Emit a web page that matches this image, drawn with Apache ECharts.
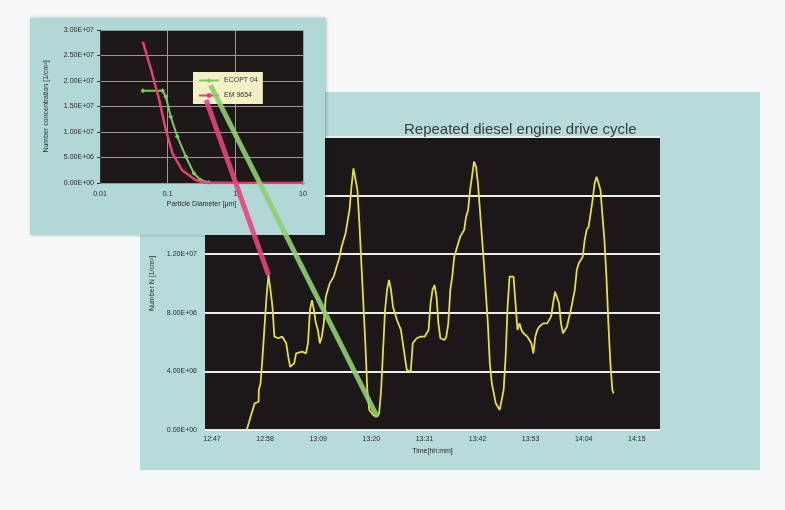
<!DOCTYPE html>
<html lang="en">
<head>
<meta charset="UTF-8">
<title>Repeated diesel engine drive cycle</title>
<style>
  html, body { margin: 0; padding: 0; background: #f6f7f8; }
  #m1 { width: 785px; height: 510px; }
</style>
</head>
<body>
<div id="m1"></div>
<script src="https://cdn.jsdelivr.net/npm/echarts@6/dist/echarts.min.js"></script>
<script>
    // big chart: time axis in minutes from first label
    var timeLabels = ['12:47', '12:58', '13:09', '13:20', '13:31', '13:42', '13:53', '14:04', '14:15'];
    var timeTicks = [0, 11, 22, 33, 44, 55, 66, 77, 88];

    var cycleTime = [7.19, 7.60, 8.83, 9.65, 9.70, 10.06, 10.47, 11.29, 11.70, 12.11, 12.52, 12.92, 13.74, 14.56, 15.38, 15.79,
        16.20, 17.02, 17.43, 18.66, 19.48, 19.88, 20.29, 20.70, 21.11, 21.52, 21.93, 22.34, 22.75, 23.16, 23.57, 23.98,
        24.39, 25.21, 26.03, 26.43, 26.84, 27.66, 28.48, 28.89, 29.30, 29.71, 30.12, 30.53, 30.94, 31.35, 31.76, 32.17,
        32.58, 33.39, 34.21, 34.62, 35.03, 35.44, 35.85, 36.26, 36.67, 37.08, 37.49, 38.31, 39.13, 39.54, 39.94, 40.35,
        41.17, 41.58, 42.40, 43.22, 44.04, 44.86, 45.27, 45.68, 46.09, 46.50, 46.90, 47.31, 48.13, 48.54, 48.95, 49.36,
        49.77, 50.18, 50.59, 51.41, 52.23, 52.64, 53.05, 53.46, 53.86, 54.27, 54.68, 55.09, 55.50, 56.32, 57.14, 57.55,
        57.96, 58.78, 59.60, 60.01, 60.41, 60.82, 61.23, 61.64, 62.46, 62.87, 63.28, 63.69, 64.10, 64.51, 65.33, 66.15,
        66.56, 66.97, 67.37, 67.78, 68.60, 69.42, 70.24, 70.65, 71.06, 71.47, 71.88, 72.29, 72.70, 73.52, 74.33, 75.15,
        75.56, 75.97, 76.79, 77.20, 77.61, 78.02, 78.43, 78.84, 79.25, 79.66, 80.07, 80.48, 80.89, 81.29, 81.70, 82.11,
        82.52, 82.93, 83.18];
    var cycleNumber = [0.0e6, 0.46e6, 1.82e6, 1.93e6, 2.73e6, 3.19e6, 5.01e6, 9.10e6, 10.58e6, 9.56e6, 8.42e6, 6.37e6, 6.26e6, 6.37e6, 5.92e6, 5.01e6,
        4.32e6, 4.55e6, 5.23e6, 5.35e6, 5.23e6, 5.92e6, 8.19e6, 8.87e6, 8.19e6, 7.28e6, 6.83e6, 5.92e6, 6.37e6, 7.28e6, 9.10e6, 9.56e6,
        10.01e6, 10.47e6, 11.38e6, 11.83e6, 12.51e6, 13.42e6, 15.02e6, 16.61e6, 17.86e6, 17.75e6, 16.38e6, 14.11e6, 11.38e6, 8.65e6, 5.92e6, 2.73e6,
        1.37e6, 1.02e6, 0.91e6, 1.14e6, 2.73e6, 5.46e6, 8.19e6, 9.56e6, 10.24e6, 9.56e6, 8.42e6, 7.51e6, 6.83e6, 5.92e6, 5.01e6, 4.10e6,
        3.98e6, 5.92e6, 6.26e6, 6.37e6, 6.37e6, 6.83e6, 8.65e6, 9.56e6, 9.90e6, 9.10e6, 7.28e6, 6.26e6, 6.14e6, 6.37e6, 7.28e6, 9.56e6,
        10.47e6, 11.83e6, 12.29e6, 13.20e6, 13.65e6, 14.56e6, 15.02e6, 16.38e6, 17.29e6, 18.32e6, 17.98e6, 16.84e6, 15.02e6, 11.38e6, 7.28e6, 4.55e6,
        3.19e6, 1.82e6, 1.37e6, 1.48e6, 2.73e6, 5.01e6, 8.42e6, 10.47e6, 10.47e6, 8.65e6, 6.83e6, 7.28e6, 6.83e6, 6.60e6, 6.37e6, 5.92e6,
        5.23e6, 6.37e6, 6.83e6, 7.05e6, 7.28e6, 7.28e6, 7.74e6, 8.65e6, 9.44e6, 9.56e6, 8.65e6, 7.28e6, 6.60e6, 7.05e6, 8.19e6, 9.56e6,
        10.92e6, 11.38e6, 11.83e6, 12.97e6, 13.65e6, 13.88e6, 14.79e6, 15.70e6, 16.84e6, 17.29e6, 17.29e6, 16.38e6, 14.56e6, 12.97e6, 10.47e6, 7.28e6,
        4.55e6, 2.73e6, 2.50e6];

    // inset: size distributions
    var ecoName = 'ECOPT 04';
    var ecoDiam = [0.043, 0.084, 0.094, 0.111, 0.139, 0.185, 0.244, 0.305, 0.404, 1, 10];
    var ecoConc = [1.81e7, 1.81e7, 1.69e7, 1.30e7, 9.1e6, 5.2e6, 1.9e6, 6e5, 1e5, 0, 0];
    var emName = 'EM 9654';
    var emDiam = [0.043, 0.057, 0.075, 0.094, 0.118, 0.164, 0.258, 0.361, 1, 10];
    var emConc = [2.77e7, 2.22e7, 1.63e7, 1.04e7, 5.8e6, 2.5e6, 6e5, 0, 0, 0];

    // callout links: from inset (diameter, conc) to a point of the drive cycle
    var pinkFrom = [0.37, 1.63e7], pinkTo = 8;
    var greenFrom = [0.43, 1.92e7], greenTo = 50;

    function zip(a, b) {
        var out = [];
        for (var i = 0; i < a.length; i++) out.push([a[i], b[i]]);
        return out;
    }
    function sci(v) {
        if (v === 0) return '0.00E+00';
        var p = v.toExponential(2).split('e');
        var e = parseInt(p[1], 10);
        return p[0] + 'E' + (e < 0 ? '-' : '+') + (Math.abs(e) < 10 ? '0' : '') + Math.abs(e);
    }

    var font = 'Liberation Sans';
    var lbl = {fontSize: 7, color: '#2a2a2a', fontFamily: font};
    var my1 = echarts.init(document.getElementById('m1'));
    var option1 = {
        animation: false,
        backgroundColor: '#f6f7f8',
        textStyle: {fontFamily: font},
        title: {
            text: 'Repeated diesel engine drive cycle',
            left: 399, top: 117,
            textStyle: {fontSize: 15, fontWeight: 'normal', color: '#3a3a3a', fontFamily: font}
        },
        graphic: {
            elements: [
                {id: 'bigPanel', type: 'rect', z: -1, shape: {x: 140, y: 92, width: 620, height: 378},
                    style: {fill: '#b7dadb'}},
                {id: 'smallPanel', type: 'rect', zlevel: 1, z: 0, shape: {x: 30, y: 18, width: 295, height: 217},
                    style: {fill: '#b2d7d7', shadowBlur: 3, shadowColor: 'rgba(0,0,0,0.3)', shadowOffsetX: 1}}
            ]
        },
        legend: {
            zlevel: 1, z: 10,
            orient: 'vertical',
            left: 193, top: 72,
            backgroundColor: '#f3f0c6',
            padding: [5, 5],
            itemGap: 8,
            itemWidth: 20, itemHeight: 6,
            textStyle: {fontSize: 7, color: '#333', fontFamily: font},
            data: [ecoName, emName]
        },
        grid: [
            {left: 205, right: 125, top: 137, bottom: 80, show: true, backgroundColor: '#1c1719', borderWidth: 0, z: 1},
            {left: 100, right: 482, top: 30, bottom: 327, show: true, backgroundColor: '#1e1819', borderWidth: 0,
                zlevel: 1, z: 1}
        ],
        xAxis: [
            {
                gridIndex: 0, type: 'value', min: -1.45, max: 92.8, z: 2,
                name: 'Time[hh:mm]', nameLocation: 'middle', nameGap: 18,
                nameTextStyle: {fontSize: 7, color: '#2a2a2a'},
                axisLine: {show: false}, splitLine: {show: false},
                axisTick: {show: false, customValues: timeTicks},
                axisLabel: Object.assign({customValues: timeTicks, margin: 6, formatter: function (v) {
                    return timeLabels[timeTicks.indexOf(v)];
                }}, lbl)
            },
            {
                gridIndex: 1, type: 'log', logBase: 10, min: 0.01, max: 10, zlevel: 1, z: 2,
                name: 'Particle Diameter [µm]', nameLocation: 'middle', nameGap: 18,
                nameTextStyle: {fontSize: 7, color: '#2a2a2a'},
                axisLine: {show: false}, axisTick: {show: false},
                splitLine: {show: true, lineStyle: {color: '#9a9a9a', width: 1}},
                axisLabel: Object.assign({margin: 8, formatter: function (v) { return String(v); }}, lbl)
            }
        ],
        yAxis: [
            {
                gridIndex: 0, type: 'value', min: 0, max: 2e7, interval: 4e6, z: 2,
                name: 'Number N [1/cm³]', nameLocation: 'middle', nameGap: 46, nameRotate: 90,
                nameTextStyle: {fontSize: 7, color: '#2a2a2a'},
                axisLine: {show: false}, axisTick: {show: false},
                splitLine: {show: true, lineStyle: {color: '#ececec', width: 2}},
                axisLabel: Object.assign({margin: 8, formatter: sci}, lbl)
            },
            {
                gridIndex: 1, type: 'value', min: 0, max: 3e7, interval: 5e6, zlevel: 1, z: 2,
                name: 'Number concentration [1/cm³]', nameLocation: 'middle', nameGap: 50, nameRotate: 90,
                nameTextStyle: {fontSize: 7, color: '#2a2a2a'},
                axisLine: {show: true, lineStyle: {color: '#333'}},
                axisTick: {show: true, length: 3, lineStyle: {color: '#333'}},
                splitLine: {show: true, lineStyle: {color: '#9a9a9a', width: 1}},
                axisLabel: Object.assign({margin: 6, formatter: sci}, lbl)
            }
        ],
        series: [
            {
                name: 'drive cycle', type: 'line', xAxisIndex: 0, yAxisIndex: 0, z: 3,
                data: zip(cycleTime, cycleNumber),
                showSymbol: false,
                lineStyle: {color: '#e6df3a', width: 1.8}
            },
            {
                name: ecoName, type: 'line', xAxisIndex: 1, yAxisIndex: 1, zlevel: 1, z: 3,
                data: zip(ecoDiam, ecoConc),
                symbol: 'diamond', symbolSize: 5, showSymbol: true,
                itemStyle: {color: '#7cc95c'},
                lineStyle: {color: '#7cc95c', width: 2}
            },
            {
                name: emName, type: 'line', xAxisIndex: 1, yAxisIndex: 1, zlevel: 1, z: 4,
                data: zip(emDiam, emConc),
                showSymbol: false, symbol: 'none',
                itemStyle: {color: '#e5406f'},
                lineStyle: {color: '#e5406f', width: 2.5}
            }
        ]
    };
    my1.setOption(option1);

    // callout lines, positioned through the axes of both grids
    function link(id, from, toIdx, color) {
        var a = my1.convertToPixel({xAxisIndex: 1, yAxisIndex: 1}, from);
        var b = my1.convertToPixel({xAxisIndex: 0, yAxisIndex: 0}, [cycleTime[toIdx], cycleNumber[toIdx]]);
        return {id: id, type: 'line', zlevel: 2, z: 0,
            shape: {x1: a[0], y1: a[1], x2: b[0], y2: b[1]},
            style: {stroke: color, lineWidth: 5, opacity: 0.9}};
    }
    my1.setOption({
        graphic: {
            elements: [
                link('pinkLink', pinkFrom, pinkTo, '#e8437c'),
                link('greenLink', greenFrom, greenTo, '#8ed06c')
            ]
        }
    });
</script>
</body>
</html>
